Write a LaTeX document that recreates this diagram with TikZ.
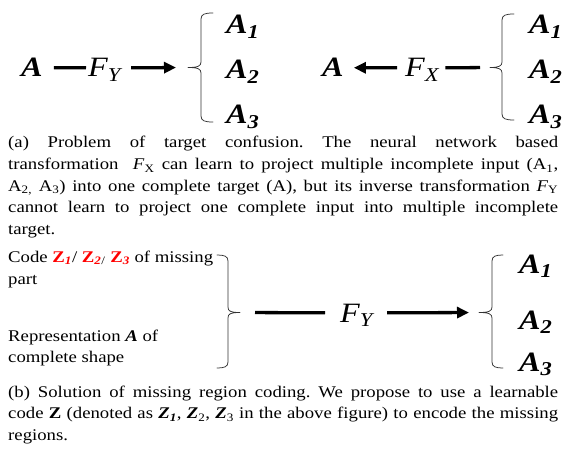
\documentclass[tikz,border=0pt]{standalone}
\usepackage{fontspec}
\setmainfont{Liberation Serif}[FakeStretch=1.15]
\usetikzlibrary{arrows.meta}
\frenchspacing
\begin{document}
\begin{tikzpicture}[x=1pt,y=-1pt,
  big/.style={font=\fontsize{28}{30}\selectfont\bfseries\itshape, inner sep=0pt, anchor=base west},
  fn/.style={font=\fontsize{28}{30}\selectfont\itshape, inner sep=0pt, anchor=base west},
  txt/.style={font=\fontsize{16.3}{19}\selectfont, inner sep=0pt, anchor=base west},
  conn/.style={line width=3.3pt},
  arr/.style={line width=3.3pt, -{Triangle[length=12pt,width=11pt]}},
  bracestyle/.style={line width=0.75pt, black!80, line cap=round, line join=round}
]
\useasboundingbox (0,0) rectangle (567,449);

% ---------- top left ----------
\node[big] (A) at (21,77) {A};
\node[fn] (FY) at (88,77) {F\smash{\textsubscript{Y}}};
\coordinate (tipL) at (188,67.5);
\draw[bracestyle] (213,13) .. controls (205,13) and (201,14) .. (201,19) -- (201,62)
  .. controls (201,66) and (198,67.5) .. (tipL)
  .. controls (198,67.5) and (201,69) .. (201,73) -- (201,116)
  .. controls (201,121) and (205,122) .. (213,122);
\node[big] (LA1) at (226,34) {A\textsubscript{1}};
\node[big] (LA2) at (226,79) {A\textsubscript{2}};
\node[big] (LA3) at (226,124) {A\textsubscript{3}};
\draw[conn] ([xshift=11pt]A.east) -- ([xshift=-2pt]FY.west);
\draw[arr, shorten >=12pt] ([xshift=10pt]FY.east) -- (tipL);

% ---------- top right ----------
\node[big] (B) at (322,77) {A};
\node[fn] (FX) at (405,77) {F\smash{\textsubscript{X}}};
\coordinate (tipR) at (490,67.5);
\draw[bracestyle] (514,14) .. controls (506,14) and (502,15) .. (502,20) -- (502,62)
  .. controls (502,66) and (499,67.5) .. (tipR)
  .. controls (499,67.5) and (502,69) .. (502,73) -- (502,114)
  .. controls (502,119) and (506,120) .. (514,120);
\node[big] (RA1) at (529,34) {A\textsubscript{1}};
\node[big] (RA2) at (529,79) {A\textsubscript{2}};
\node[big] (RA3) at (529,124) {A\textsubscript{3}};
\draw[arr] ([xshift=-8pt]FX.west) -- ([xshift=10pt]B.east);
\draw[conn, shorten >=10pt] ([xshift=6pt]FX.east) -- (tipR);

% ---------- caption (a) ----------
\node[txt] (ca1) at (8,148) {\makebox[550pt][s]{(a) Problem of target confusion. The neural network based}};
\node[txt] (ca2) at (8,169.5) {\makebox[550pt][s]{transformation \ \textit{F}\textsubscript{X} can learn to project multiple incomplete input (A\textsubscript{1},}};
\node[txt] (ca3) at (8,191) {\makebox[550pt][s]{A\textsubscript{2,} A\textsubscript{3}) into one complete target (A), but its inverse transformation \textit{F}\textsubscript{Y}}};
\node[txt] (ca4) at (8,212.5) {\makebox[550pt][s]{cannot learn to project one complete input into multiple incomplete}};
\node[txt] (ca5) at (8,234) {target.};

% ---------- bottom diagram ----------
\node[txt] (t1) at (8,262) {Code \textcolor{red}{\textbf{Z}\textbf{\textit{\textsubscript{1}}}}/ \textcolor{red}{\textbf{Z}\textbf{\textit{\textsubscript{2}}}}\textsubscript{/} \textcolor{red}{\textbf{Z}\textbf{\textit{\textsubscript{3}}}} of missing};
\node[txt] (t2) at (8,284) {part};
\node[txt] (t3) at (8,341) {Representation \textbf{\textit{A}} of};
\node[txt] (t4) at (8,362) {complete shape};
\coordinate (tipBL) at (240,312.5);
\draw[bracestyle] (217,255) .. controls (224,255) and (228,256) .. (228,261) -- (228,307)
  .. controls (228,311) and (230,312.5) .. (tipBL)
  .. controls (230,312.5) and (228,314) .. (228,318) -- (228,362)
  .. controls (228,367) and (224,368) .. (217,368);
\node[fn] (FB) at (340,322) {F\smash{\textsubscript{Y}}};
\coordinate (tipBR) at (479,312.5);
\draw[bracestyle] (503,255) .. controls (496,255) and (492,256) .. (492,261) -- (492,307)
  .. controls (492,311) and (489,312.5) .. (tipBR)
  .. controls (489,312.5) and (492,314) .. (492,318) -- (492,362)
  .. controls (492,367) and (496,368) .. (503,368);
\node[big] (BA1) at (519,273) {A\textsubscript{1}};
\node[big] (BA2) at (519,329) {A\textsubscript{2}};
\node[big] (BA3) at (519,371) {A\textsubscript{3}};
\draw[conn, shorten <=15pt] (tipBL) -- ([xshift=-15pt]FB.west);
\draw[arr, shorten >=10pt] ([xshift=14pt]FB.east) -- (tipBR);

% ---------- caption (b) ----------
\node[txt] (cb1) at (8,397) {\makebox[550pt][s]{(b) Solution of missing region coding. We propose to use a learnable}};
\node[txt] (cb2) at (8,418.5) {\makebox[550pt][s]{code \textbf{Z} (denoted as \textbf{\textit{Z\textsubscript{1}}}, \textbf{\textit{Z}}\textsubscript{2}, \textbf{\textit{Z}}\textsubscript{3} in the above figure) to encode the missing}};
\node[txt] (cb3) at (8,440) {regions.};
\end{tikzpicture}
\end{document}
